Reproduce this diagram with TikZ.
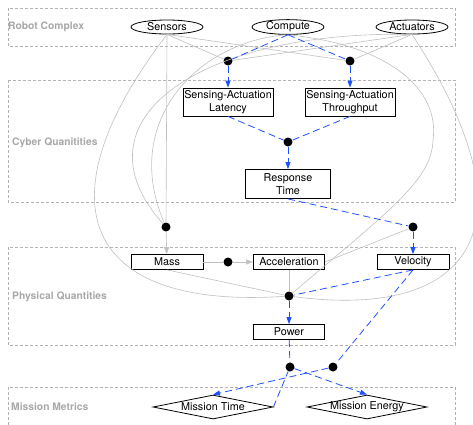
\documentclass[tikz,border=0pt]{standalone}
\usepackage{fontspec}
\setmainfont{TeX Gyre Heros}
\usetikzlibrary{shapes.geometric,arrows.meta}
\definecolor{edgeblue}{RGB}{30,80,255}
\definecolor{edgegray}{RGB}{192,192,192}
\definecolor{clustergray}{RGB}{178,178,178}
\definecolor{labelgray}{RGB}{168,168,168}
\begin{document}
\begin{tikzpicture}[x=1pt,y=-1pt,font=\fontsize{10.8}{12.5}\selectfont,
  hw/.style={draw,line width=0.8pt,ellipse,minimum width=72pt,minimum height=14pt,inner sep=0pt},
  qty/.style={draw,line width=0.8pt,rectangle,align=center,inner sep=1pt},
  metric/.style={draw,line width=0.8pt,diamond,aspect=5,inner sep=-3pt,minimum width=120pt,minimum height=24pt},
  joint/.style={circle,fill=black,inner sep=0pt,minimum size=9pt},
  cluster/.style={draw=clustergray,dash pattern=on 3pt off 2pt,line width=0.7pt},
  clabel/.style={anchor=west,inner sep=0pt,text=labelgray,font=\fontsize{10.3}{12}\selectfont\bfseries},
  dep/.style={draw=edgegray,line width=0.6pt},
  cyb/.style={draw=edgeblue,dash pattern=on 7pt off 4pt,line width=0.8pt},
  arr/.style={-{Triangle[length=7pt,width=5pt]}}]
\useasboundingbox (0,0) rectangle (473,424);
\draw[cluster] (8,8) rectangle (455,46);
\draw[cluster] (8,80) rectangle (455,202);
\draw[cluster] (8,247) rectangle (455,345);
\draw[cluster] (8,387) rectangle (455,440);
\node[clabel] (robotlabel) at (8,27) {Robot Complex};
\node[clabel] (cyberlabel) at (12,143) {Cyber Quanitities};
\node[clabel] (physlabel) at (12,297) {Physical Quantities};
\node[clabel] (missionlabel) at (11,407) {Mission Metrics};
\node[hw] (sensors) at (167,27) {Sensors};
\node[hw] (compute) at (288,27) {Compute};
\node[hw] (actuators) at (412,27) {Actuators};
\node[qty,minimum width=90pt,minimum height=28pt] (latency) at (228,102) {Sensing-Actuation\\Latency};
\node[qty,minimum width=90pt,minimum height=28pt] (throughput) at (350,102) {Sensing-Actuation\\Throughput};
\node[qty,minimum width=85pt,minimum height=29pt] (response) at (288,184) {Response\\Time};
\node[qty,minimum width=72pt,minimum height=15pt] (mass) at (167,262) {Mass};
\node[qty,minimum width=71pt,minimum height=15pt] (accel) at (289,262) {Acceleration};
\node[qty,minimum width=72pt,minimum height=15pt] (velocity) at (413,262) {Velocity};
\node[qty,minimum width=71pt,minimum height=15pt] (power) at (289,332) {Power};
\node[metric] (mtime) at (213,407) {Mission Time};
\node[metric] (menergy) at (367,407) {Mission Energy};
\node[joint] (jlat) at (228,61) {};
\node[joint] (jthr) at (350,61) {};
\node[joint] (jresp) at (288,142) {};
\node[joint] (jmass) at (166,227) {};
\node[joint] (jvel) at (413,227) {};
\node[joint] (jacc) at (228,262) {};
\node[joint] (jpow) at (289,296) {};
\node[joint] (jenergy) at (290,367) {};
\node[joint] (jtime) at (333,367) {};
\draw[dep] (sensors.south) -- (jlat);
\draw[dep] (sensors.south) -- (jthr);
\draw[dep] (sensors.south) -- (jmass);
\draw[dep] (sensors.south) .. controls (40,200) and (80,310) .. (jpow);
\draw[dep] (compute.south) .. controls (200,40) and (120,120) .. (jmass);
\draw[dep] (compute.south) .. controls (390,45) and (440,90) .. (433,140) .. controls (432,180) and (390,210) .. (jpow);
\draw[dep] (actuators.south) -- (jlat);
\draw[dep] (actuators.south) -- (jthr);
\draw[dep] (actuators.south) .. controls (200,30) and (70,120) .. (jmass);
\draw[dep] (actuators.south) .. controls (540,230) and (470,320) .. (jpow);
\draw[dep,arr] (jmass) -- (mass);
\draw[dep] (mass) -- (jacc);
\draw[dep,arr] (jacc) -- (accel);
\draw[dep] (mass.south) -- (jpow);
\draw[dep] (accel) -- (jpow);
\draw[dep] (accel.east) -- (jvel);
\draw[cyb] (compute.south) -- (jlat);
\draw[cyb] (compute.south) -- (jthr);
\draw[cyb,arr] (jlat) -- (latency);
\draw[cyb,arr] (jthr) -- (throughput);
\draw[cyb] (latency.south) -- (jresp);
\draw[cyb] (throughput.south) -- (jresp);
\draw[cyb,arr] (jresp) -- (response);
\draw[cyb] (response.south) -- (jvel);
\draw[cyb,arr] (jvel) -- (velocity);
\draw[cyb] (velocity.south) -- (jpow);
\draw[cyb,arr] (jpow) -- (power);
\draw[cyb] (power) -- (jenergy);
\draw[cyb] (velocity.south) -- (jtime);
\draw[cyb,arr] (jtime) -- (mtime.north);
\draw[cyb] (mtime.east) -- (jenergy);
\draw[cyb,arr] (jenergy) -- (menergy.north);
\end{tikzpicture}
\end{document}
